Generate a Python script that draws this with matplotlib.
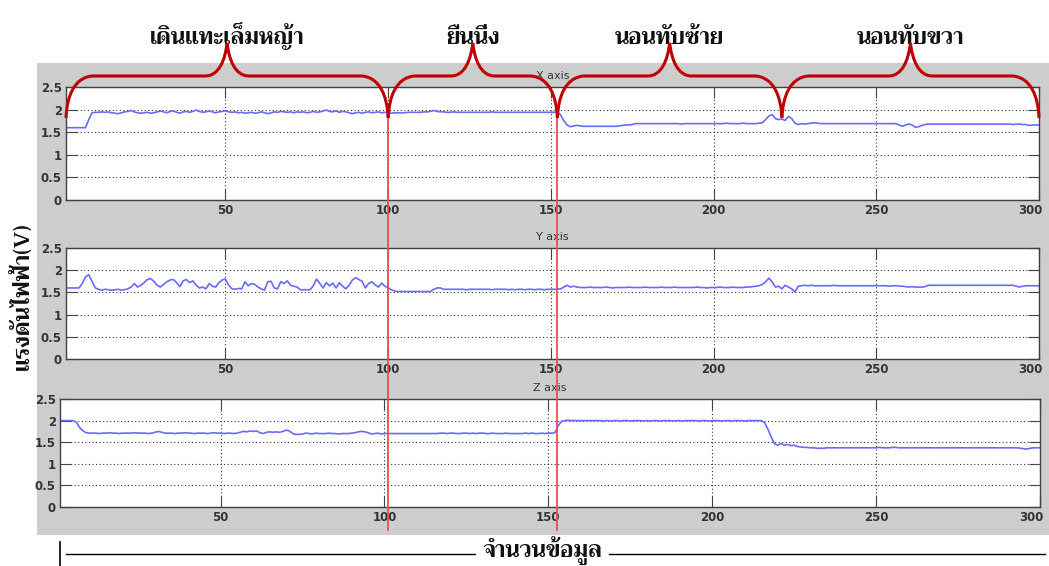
import matplotlib
matplotlib.use("Agg")
import numpy as np
import matplotlib.pyplot as plt
from matplotlib import font_manager
from matplotlib.ft2font import FT2Font
from matplotlib.patches import Rectangle, PathPatch
from matplotlib.path import Path
from matplotlib.lines import Line2D
from matplotlib.transforms import ScaledTranslation

# ---- data ----
x_axis_v = [
    1.60, 1.60, 1.60, 1.60, 1.60, 1.60, 1.60, 1.78, 1.93, 1.94, 1.94, 1.95, 1.94, 1.95, 1.93, 1.92, 1.91, 1.93, 1.95, 1.96,
    1.98, 1.95, 1.93, 1.92, 1.93, 1.94, 1.92, 1.93, 1.95, 1.97, 1.95, 1.93, 1.96, 1.97, 1.94, 1.92, 1.95, 1.96, 1.94, 1.96,
    1.99, 1.96, 1.94, 1.95, 1.97, 1.95, 1.93, 1.95, 1.96, 1.98, 1.95, 1.94, 1.95, 1.93, 1.94, 1.92, 1.93, 1.94, 1.92, 1.93,
    1.95, 1.93, 1.91, 1.93, 1.95, 1.94, 1.96, 1.95, 1.94, 1.95, 1.93, 1.95, 1.94, 1.95, 1.93, 1.94, 1.96, 1.94, 1.95, 1.97,
    1.99, 1.96, 1.95, 1.97, 1.94, 1.96, 1.95, 1.93, 1.91, 1.93, 1.94, 1.92, 1.94, 1.95, 1.93, 1.94, 1.95, 1.93, 1.94, 1.93,
    1.92, 1.93, 1.93, 1.93, 1.93, 1.94, 1.94, 1.94, 1.94, 1.94, 1.95, 1.95, 1.96, 1.98, 1.96, 1.95, 1.95, 1.94, 1.94, 1.95,
    1.94, 1.94, 1.94, 1.94, 1.94, 1.94, 1.94, 1.94, 1.94, 1.94, 1.94, 1.95, 1.94, 1.94, 1.94, 1.94, 1.94, 1.94, 1.94, 1.94,
    1.94, 1.94, 1.94, 1.94, 1.94, 1.94, 1.94, 1.94, 1.94, 1.94, 1.94, 1.95, 1.88, 1.75, 1.66, 1.62, 1.64, 1.65, 1.64, 1.63,
    1.63, 1.63, 1.63, 1.63, 1.63, 1.63, 1.63, 1.63, 1.63, 1.63, 1.64, 1.65, 1.66, 1.66, 1.67, 1.69, 1.69, 1.69, 1.69, 1.69,
    1.69, 1.69, 1.69, 1.69, 1.69, 1.69, 1.69, 1.69, 1.69, 1.68, 1.69, 1.69, 1.69, 1.69, 1.69, 1.69, 1.69, 1.69, 1.69, 1.69,
    1.69, 1.69, 1.69, 1.70, 1.69, 1.69, 1.69, 1.69, 1.70, 1.69, 1.69, 1.69, 1.69, 1.70, 1.71, 1.78, 1.86, 1.89, 1.80, 1.78,
    1.79, 1.76, 1.85, 1.80, 1.70, 1.67, 1.69, 1.68, 1.69, 1.70, 1.71, 1.70, 1.69, 1.69, 1.69, 1.69, 1.69, 1.69, 1.69, 1.69,
    1.69, 1.69, 1.69, 1.69, 1.69, 1.69, 1.69, 1.69, 1.69, 1.69, 1.69, 1.69, 1.69, 1.69, 1.69, 1.69, 1.66, 1.63, 1.66, 1.68,
    1.66, 1.61, 1.62, 1.65, 1.67, 1.68, 1.68, 1.68, 1.68, 1.68, 1.68, 1.68, 1.68, 1.68, 1.68, 1.68, 1.68, 1.68, 1.68, 1.68,
    1.68, 1.68, 1.68, 1.68, 1.68, 1.68, 1.68, 1.68, 1.68, 1.68, 1.68, 1.67, 1.68, 1.68, 1.67, 1.67, 1.65, 1.66, 1.66, 1.66,
]

y_axis_v = [
    1.60, 1.60, 1.60, 1.60, 1.60, 1.70, 1.85, 1.90, 1.75, 1.60, 1.57, 1.55, 1.57, 1.56, 1.55, 1.56, 1.57, 1.55, 1.56, 1.58,
    1.62, 1.70, 1.62, 1.66, 1.72, 1.79, 1.81, 1.75, 1.66, 1.62, 1.68, 1.74, 1.78, 1.79, 1.72, 1.63, 1.76, 1.79, 1.72, 1.76,
    1.66, 1.60, 1.62, 1.58, 1.70, 1.64, 1.62, 1.72, 1.78, 1.80, 1.66, 1.58, 1.57, 1.59, 1.58, 1.74, 1.65, 1.70, 1.68, 1.62,
    1.58, 1.55, 1.74, 1.75, 1.60, 1.58, 1.74, 1.70, 1.76, 1.66, 1.64, 1.62, 1.56, 1.56, 1.56, 1.56, 1.65, 1.80, 1.70, 1.60,
    1.72, 1.65, 1.71, 1.60, 1.72, 1.64, 1.58, 1.66, 1.78, 1.83, 1.79, 1.75, 1.60, 1.70, 1.74, 1.67, 1.62, 1.71, 1.64, 1.60,
    1.56, 1.53, 1.52, 1.52, 1.52, 1.52, 1.52, 1.52, 1.52, 1.52, 1.52, 1.52, 1.52, 1.57, 1.60, 1.60, 1.57, 1.57, 1.57, 1.57,
    1.57, 1.57, 1.57, 1.56, 1.57, 1.57, 1.57, 1.57, 1.57, 1.57, 1.57, 1.56, 1.57, 1.57, 1.57, 1.57, 1.56, 1.57, 1.56, 1.57,
    1.57, 1.56, 1.57, 1.57, 1.56, 1.57, 1.57, 1.56, 1.57, 1.57, 1.57, 1.57, 1.58, 1.62, 1.66, 1.62, 1.64, 1.62, 1.61, 1.61,
    1.61, 1.62, 1.61, 1.61, 1.61, 1.61, 1.62, 1.61, 1.60, 1.61, 1.61, 1.61, 1.61, 1.62, 1.61, 1.61, 1.61, 1.61, 1.62, 1.61,
    1.61, 1.61, 1.61, 1.62, 1.61, 1.61, 1.61, 1.62, 1.61, 1.61, 1.61, 1.61, 1.61, 1.61, 1.62, 1.61, 1.61, 1.60, 1.61, 1.61,
    1.61, 1.62, 1.61, 1.61, 1.61, 1.62, 1.61, 1.61, 1.61, 1.62, 1.62, 1.63, 1.64, 1.65, 1.68, 1.74, 1.82, 1.74, 1.62, 1.64,
    1.58, 1.66, 1.62, 1.58, 1.51, 1.64, 1.65, 1.66, 1.65, 1.66, 1.65, 1.65, 1.65, 1.65, 1.65, 1.65, 1.66, 1.65, 1.65, 1.65,
    1.65, 1.65, 1.65, 1.65, 1.65, 1.65, 1.65, 1.65, 1.65, 1.65, 1.65, 1.65, 1.65, 1.64, 1.65, 1.65, 1.64, 1.64, 1.63, 1.62,
    1.63, 1.62, 1.62, 1.62, 1.63, 1.66, 1.66, 1.66, 1.66, 1.66, 1.66, 1.66, 1.66, 1.66, 1.66, 1.66, 1.66, 1.66, 1.66, 1.66,
    1.66, 1.66, 1.66, 1.66, 1.66, 1.66, 1.66, 1.66, 1.66, 1.66, 1.66, 1.66, 1.64, 1.62, 1.64, 1.65, 1.65, 1.65, 1.65, 1.65,
]

z_axis_v = [
    2.00, 2.00, 2.00, 2.00, 2.00, 1.96, 1.84, 1.76, 1.72, 1.71, 1.71, 1.71, 1.70, 1.71, 1.71, 1.72, 1.71, 1.71, 1.70, 1.71,
    1.71, 1.71, 1.71, 1.72, 1.71, 1.71, 1.71, 1.70, 1.71, 1.73, 1.75, 1.73, 1.71, 1.71, 1.71, 1.70, 1.71, 1.71, 1.72, 1.71,
    1.71, 1.70, 1.71, 1.71, 1.71, 1.70, 1.71, 1.72, 1.71, 1.71, 1.70, 1.71, 1.71, 1.70, 1.71, 1.73, 1.75, 1.74, 1.76, 1.75,
    1.76, 1.72, 1.70, 1.73, 1.74, 1.73, 1.74, 1.73, 1.75, 1.78, 1.76, 1.70, 1.68, 1.68, 1.69, 1.71, 1.70, 1.69, 1.71, 1.70,
    1.70, 1.70, 1.71, 1.70, 1.70, 1.69, 1.70, 1.70, 1.70, 1.71, 1.72, 1.74, 1.75, 1.74, 1.72, 1.69, 1.70, 1.71, 1.69, 1.70,
    1.70, 1.70, 1.70, 1.70, 1.70, 1.70, 1.70, 1.70, 1.70, 1.70, 1.70, 1.70, 1.70, 1.70, 1.70, 1.70, 1.71, 1.71, 1.70, 1.71,
    1.71, 1.70, 1.70, 1.71, 1.71, 1.70, 1.71, 1.70, 1.71, 1.71, 1.70, 1.70, 1.71, 1.70, 1.70, 1.70, 1.71, 1.70, 1.70, 1.70,
    1.70, 1.70, 1.71, 1.70, 1.71, 1.70, 1.70, 1.71, 1.70, 1.71, 1.71, 1.72, 1.88, 1.98, 2.00, 2.01, 2.00, 2.00, 2.00, 2.00,
    2.00, 2.00, 2.00, 2.00, 2.00, 2.00, 1.99, 2.00, 1.99, 2.00, 2.00, 1.99, 2.00, 2.00, 1.99, 2.00, 2.00, 2.00, 1.99, 2.00,
    1.99, 2.00, 2.00, 1.99, 2.00, 2.00, 2.00, 1.99, 2.00, 2.00, 1.99, 2.00, 2.00, 2.00, 2.00, 1.99, 2.00, 2.00, 1.99, 2.00,
    2.00, 2.00, 1.99, 2.00, 2.00, 1.99, 2.00, 2.00, 2.00, 1.99, 2.00, 2.00, 2.00, 2.00, 2.00, 1.95, 1.80, 1.62, 1.46, 1.43,
    1.47, 1.43, 1.45, 1.42, 1.43, 1.40, 1.39, 1.38, 1.38, 1.37, 1.37, 1.36, 1.36, 1.36, 1.37, 1.37, 1.37, 1.37, 1.37, 1.37,
    1.37, 1.37, 1.37, 1.37, 1.37, 1.37, 1.37, 1.37, 1.37, 1.37, 1.38, 1.37, 1.37, 1.37, 1.38, 1.38, 1.37, 1.37, 1.37, 1.37,
    1.37, 1.37, 1.37, 1.37, 1.37, 1.37, 1.37, 1.37, 1.37, 1.37, 1.37, 1.37, 1.37, 1.37, 1.37, 1.37, 1.37, 1.37, 1.37, 1.37,
    1.37, 1.37, 1.37, 1.37, 1.37, 1.37, 1.37, 1.37, 1.37, 1.37, 1.37, 1.37, 1.37, 1.36, 1.35, 1.34, 1.36, 1.37, 1.37, 1.37,
]

panel_titles = ["X axis", "Y axis", "Z axis"]
y_ticks = [0, 0.5, 1, 1.5, 2, 2.5]
y_tick_labels = ["0", "0.5", "1", "1.5", "2", "2.5"]
x_ticks = [50, 100, 150, 200, 250, 300]

# ช่วงของแต่ละท่าทาง (ขอบเขตตามลำดับข้อมูล)
phase_names = ["เดินแทะเล็มหญ้า", "ยืนนิ่ง", "นอนทับซ้าย", "นอนทับขวา"]
phase_edges = [1, 100, 152, 221, 300]

ylabel_text = "แรงดันไฟฟ้า(V)"
xlabel_text = "จำนวนข้อมูล"


def find_thai_font():
    """หา font ที่มีตัวอักษรไทย"""
    best = None
    for f in font_manager.fontManager.ttflist:
        try:
            cmap = FT2Font(f.fname).get_charmap()
        except Exception:
            continue
        if 0x0E01 in cmap and 0x0E49 in cmap and 0x0E33 in cmap:
            if best is None or f.weight in ("bold", 700):
                best = f.name
    return best or "DejaVu Sans"


thai_font = find_thai_font()
thai_family = [thai_font, "DejaVu Sans"]

W, H = 1049, 566
fig = plt.figure(figsize=(W / 100, H / 100), dpi=100)
fig.patch.set_facecolor("white")


def px_box(l, t, r, b):
    return [l / W, 1 - b / H, (r - l) / W, (b - t) / H]


def px(x, y):
    return (x / W, 1 - y / H)


# gray panel behind the subplots
fig.add_artist(Rectangle(px(37, 535), 1 - 37 / W, (535 - 63) / H, transform=fig.transFigure,
                         facecolor="#cdcdcd", edgecolor="none", zorder=-5))

boxes = [px_box(66, 87, 1039, 200), px_box(66, 248, 1039, 359), px_box(60, 399, 1040, 507)]
series = [x_axis_v, y_axis_v, z_axis_v]
axes = []
for box, vals, title in zip(boxes, series, panel_titles):
    ax = fig.add_axes(box)
    xs = np.arange(1, len(vals) + 1)
    ax.plot(xs, vals, color="#6a6aff", lw=1.2)
    ax.set_xlim(1, 300)
    ax.set_ylim(0, 2.5)
    ax.set_xticks(x_ticks)
    ax.set_yticks(y_ticks)
    ax.set_yticklabels(y_tick_labels)
    ax.grid(True, linestyle=(0, (1, 2.2)), color="#333333", lw=0.8)
    ax.tick_params(direction="in", length=8, width=0.8, top=True, right=True, color="#444444",
                   labelsize=8.5, labelcolor="#333333", pad=3)
    for lab in ax.get_xticklabels() + ax.get_yticklabels():
        lab.set_fontweight("bold")
    # last x label sits on the figure edge, nudge it inward a little
    last = ax.get_xticklabels()[-1]
    last.set_transform(last.get_transform() + ScaledTranslation(-6 / 72, 0, fig.dpi_scale_trans))
    for sp in ax.spines.values():
        sp.set_color("#404040")
        sp.set_linewidth(1.0)
    ax.set_title(title, fontsize=8, color="#333333", pad=6)
    axes.append(ax)

# red braces over the top panel
ax1 = axes[0]
edge_px = [ax1.transData.transform((e, 0))[0] for e in phase_edges]


def brace_path(xa, xb, yt=118, yl=76, yp=43):
    xm = (xa + xb) / 2
    verts = [(xa, yt), (xa + 1, 96), (xa + 8, 78), (xa + 26, yl), (xm - 22, yl),
             (xm - 8, yl), (xm - 2, 60), (xm, yp),
             (xm + 2, 60), (xm + 8, yl), (xm + 22, yl), (xb - 26, yl),
             (xb - 8, 78), (xb - 1, 96), (xb, yt)]
    codes = [Path.MOVETO, Path.CURVE4, Path.CURVE4, Path.CURVE4, Path.LINETO,
             Path.CURVE4, Path.CURVE4, Path.CURVE4,
             Path.CURVE4, Path.CURVE4, Path.CURVE4, Path.LINETO,
             Path.CURVE4, Path.CURVE4, Path.CURVE4]
    return Path([px(x, y) for x, y in verts], codes)


for i, name in enumerate(phase_names):
    xa, xb = edge_px[i], edge_px[i + 1]
    fig.add_artist(PathPatch(brace_path(xa, xb), transform=fig.transFigure, facecolor="none",
                             edgecolor="#c00000", lw=2.2, zorder=10))
    fig.text(*px((xa + xb) / 2, 44), name, ha="center", va="baseline", fontsize=16,
             fontweight="bold", family=thai_family, color="#111111")

# red separators through all three panels
for e in edge_px[1:3]:
    fig.add_artist(Line2D([e / W, e / W], [1 - 118 / H, 1 - 530 / H], transform=fig.transFigure,
                          color="#e25252", lw=1.3, zorder=9))

# y label
fig.text(*px(22, 296), ylabel_text, rotation=90, ha="center", va="center", fontsize=16,
         fontweight="bold", family=thai_family, color="#111111")

# x label with the long line broken around it
xl = fig.text(*px(542, 551), xlabel_text, ha="center", va="center", fontsize=16, fontweight="bold",
              family=thai_family, color="#111111")
fig.canvas.draw()
bb = xl.get_window_extent()
ly = 1 - 554 / H
fig.add_artist(Line2D([66 / W, (bb.x0 - 7) / W], [ly, ly], transform=fig.transFigure, color="black", lw=1.0))
fig.add_artist(Line2D([(bb.x1 + 7) / W, 1045 / W], [ly, ly], transform=fig.transFigure, color="black", lw=1.0))
fig.add_artist(Line2D([60 / W, 60 / W], [1 - 542 / H, 0], transform=fig.transFigure,
                      color="black", lw=1.2))

fig.savefig("out.png", dpi=100, facecolor="white")
